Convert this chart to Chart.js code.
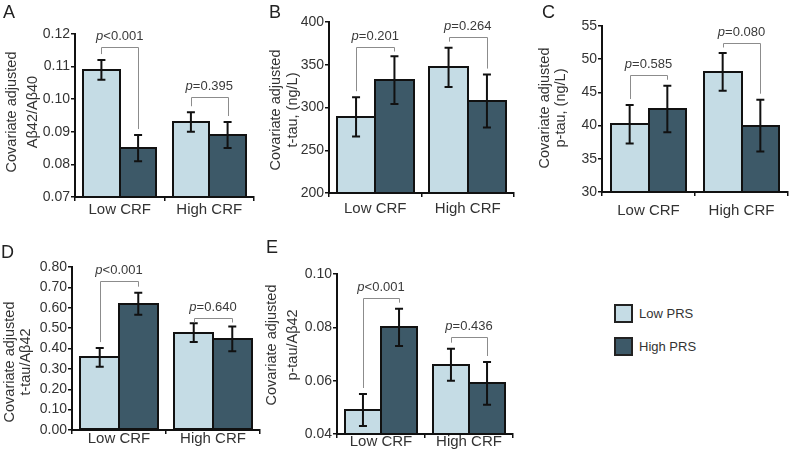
<!DOCTYPE html>
<html>
<head>
<meta charset="utf-8">
<script src="https://cdn.jsdelivr.net/npm/chart.js@4.4.1/dist/chart.umd.min.js"></script>
<style>
  html, body { margin: 0; padding: 0; background: #fff; }
  #figure { position: relative; width: 793px; height: 455px; overflow: hidden; font-family: 'Liberation Sans', Arial, sans-serif; }
  #figure canvas { position: absolute; }
  .legend { position: absolute; left: 614px; top: 304px; color: #333; font-size: 13px; }
  .legend-item { display: flex; align-items: center; height: 19px; margin-bottom: 14px; }
  .swatch { box-sizing: border-box; width: 19px; height: 19px; border: 2px solid #222; margin-right: 6px; }
</style>
</head>
<body>
<div id="figure">
  <canvas id="panelA"></canvas>
  <canvas id="panelB"></canvas>
  <canvas id="panelC"></canvas>
  <canvas id="panelD"></canvas>
  <canvas id="panelE"></canvas>
  <div class="legend">
    <div class="legend-item"><div class="swatch" style="background:#c5dce5"></div>Low PRS</div>
    <div class="legend-item"><div class="swatch" style="background:#3d5968"></div>High PRS</div>
  </div>
</div>
<script>
// Data
const categories = ['Low CRF', 'High CRF'];
const seriesNames = ['Low PRS', 'High PRS'];

// A: Aβ42/Aβ40
const abRatioLowPRS = [0.109, 0.093];
const abRatioLowPRSErr = [0.003, 0.003];
const abRatioHighPRS = [0.085, 0.089];
const abRatioHighPRSErr = [0.004, 0.004];
const abRatioP = ['<0.001', '=0.395'];
const abRatioTicks = [0.07, 0.08, 0.09, 0.10, 0.11, 0.12];

// B: t-tau
const tTauLowPRS = [289, 347];
const tTauLowPRSErr = [23, 23];
const tTauHighPRS = [332, 307.5];
const tTauHighPRSErr = [28, 31];
const tTauP = ['=0.201', '=0.264'];
const tTauTicks = [200, 250, 300, 350, 400];

// C: p-tau
const pTauLowPRS = [40.2, 48.1];
const pTauLowPRSErr = [2.9, 2.85];
const pTauHighPRS = [42.5, 40.0];
const pTauHighPRSErr = [3.5, 3.9];
const pTauP = ['=0.585', '=0.080'];
const pTauTicks = [30, 35, 40, 45, 50, 55];

// D: t-tau/Aβ42
const tTauAbLowPRS = [0.356, 0.478];
const tTauAbLowPRSErr = [0.046, 0.046];
const tTauAbHighPRS = [0.62, 0.447];
const tTauAbHighPRSErr = [0.054, 0.061];
const tTauAbP = ['<0.001', '=0.640'];
const tTauAbTicks = [0, 0.1, 0.2, 0.3, 0.4, 0.5, 0.6, 0.7, 0.8];

// E: p-tau/Aβ42
const pTauAbLowPRS = [0.049, 0.066];
const pTauAbLowPRSErr = [0.006, 0.006];
const pTauAbHighPRS = [0.080, 0.059];
const pTauAbHighPRSErr = [0.007, 0.008];
const pTauAbP = ['<0.001', '=0.436'];
const pTauAbTicks = [0.04, 0.06, 0.08, 0.10];

const FONT = "'Liberation Sans', Arial, sans-serif";
const LIGHT = '#c5dce5';
const DARK = '#3d5968';

// layout: box = canvas [left, top, width, height], area = plot [left, top, right, bottom], page coords
const panels = [
    { id: 'panelA', letter: 'A', letterPos: [3, 18], box: [0, 0, 262, 225], area: [75, 34, 254, 197],
      title: ['Covariate adjusted', 'Aβ42/Aβ40'], titleX: [12, 33], titleY: 112, xPad: 0,
      low: abRatioLowPRS, lowErr: abRatioLowPRSErr, high: abRatioHighPRS, highErr: abRatioHighPRSErr,
      p: abRatioP, ticks: abRatioTicks, decimals: 2, brackets: [0.116, 0.1007], cp: 0.82 },
    { id: 'panelB', letter: 'B', letterPos: [269, 18], box: [262, 0, 258, 225], area: [329, 22, 514, 193],
      title: ['Covariate adjusted', 't-tau, (ng/L)'], titleX: [276, 293], titleY: 110, xPad: 3,
      low: tTauLowPRS, lowErr: tTauLowPRSErr, high: tTauHighPRS, highErr: tTauHighPRSErr,
      p: tTauP, ticks: tTauTicks, decimals: 0, brackets: [371, 382], cp: 0.83 },
    { id: 'panelC', letter: 'C', letterPos: [542, 18], box: [520, 0, 273, 225], area: [602, 26, 788, 192],
      title: ['Covariate adjusted', 'p-tau, (ng/L)'], titleX: [545, 561], titleY: 108, xPad: 6,
      low: pTauLowPRS, lowErr: pTauLowPRSErr, high: pTauHighPRS, highErr: pTauHighPRSErr,
      p: pTauP, ticks: pTauTicks, decimals: 0, brackets: [47.6, 52.4], cp: 0.81 },
    { id: 'panelD', letter: 'D', letterPos: [1, 258], box: [0, 225, 262, 230], area: [72, 267, 260, 430],
      title: ['Covariate adjusted', 't-tau/Aβ42'], titleX: [10, 26], titleY: 362, xPad: -4,
      low: tTauAbLowPRS, lowErr: tTauAbLowPRSErr, high: tTauAbHighPRS, highErr: tTauAbHighPRSErr,
      p: tTauAbP, ticks: tTauAbTicks, decimals: 2, brackets: [0.731, 0.55], cp: 0.82 },
    { id: 'panelE', letter: 'E', letterPos: [266, 253], box: [262, 225, 258, 230], area: [337, 274, 513, 434],
      title: ['Covariate adjusted', 'p-tau/Aβ42'], titleX: [272, 293], titleY: 345, xPad: -5,
      low: pTauAbLowPRS, lowErr: pTauAbLowPRSErr, high: pTauAbHighPRS, highErr: pTauAbHighPRSErr,
      p: pTauAbP, ticks: pTauAbTicks, decimals: 2, brackets: [0.091, 0.0764], cp: 0.82 }
];

// Bar outlines, error bars, p-value brackets, panel letter and y title
const annotate = {
    id: 'annotate',
    afterDatasetsDraw(chart, args, opts) {
        const ctx = chart.ctx;
        const y = chart.scales.y;
        const p = opts.panel;
        const area = chart.chartArea;
        const errTop = [];

        ctx.save();
        ctx.strokeStyle = '#111';
        ctx.lineWidth = 2;

        // outline every bar from its element bounds so neighbours share one edge
        chart.data.datasets.forEach((ds, di) => {
            chart.getDatasetMeta(di).data.forEach((bar) => {
                const l = Math.round(bar.x - bar.width / 2);
                const r = Math.round(bar.x + bar.width / 2);
                const t = Math.round(bar.y);
                const b = Math.round(Math.min(bar.base, area.bottom));
                ctx.strokeRect(l, t, r - l, b - t);
            });
        });

        chart.data.datasets.forEach((ds, di) => {
            errTop[di] = [];
            chart.getDatasetMeta(di).data.forEach((bar, i) => {
                const top = y.getPixelForValue(ds.data[i] + ds.errors[i]);
                const bot = y.getPixelForValue(ds.data[i] - ds.errors[i]);
                errTop[di][i] = top;
                ctx.beginPath();
                ctx.moveTo(bar.x, top); ctx.lineTo(bar.x, bot);
                ctx.moveTo(bar.x - 4, top); ctx.lineTo(bar.x + 4, top);
                ctx.moveTo(bar.x - 4, bot); ctx.lineTo(bar.x + 4, bot);
                ctx.stroke();
            });
        });

        // brackets between the two bars of each group
        const m0 = chart.getDatasetMeta(0).data;
        const m1 = chart.getDatasetMeta(1).data;
        ctx.strokeStyle = '#8c8c8c';
        ctx.lineWidth = 1;
        ctx.fillStyle = '#3a3a3a';
        ctx.textBaseline = 'alphabetic';
        categories.forEach((c, i) => {
            const xL = m0[i].x, xR = m1[i].x;
            const yb = Math.round(y.getPixelForValue(p.brackets[i])) + 0.5;
            const endL = Math.max(yb + 4, errTop[0][i] - 6);
            const endR = Math.max(yb + 4, errTop[1][i] - 6);
            ctx.beginPath();
            ctx.moveTo(Math.round(xL) + 0.5, endL);
            ctx.lineTo(Math.round(xL) + 0.5, yb);
            ctx.lineTo(Math.round(xR) + 0.5, yb);
            ctx.lineTo(Math.round(xR) + 0.5, endR);
            ctx.stroke();

            ctx.font = 'italic 13px ' + FONT;
            const wp = ctx.measureText('p').width;
            ctx.font = '13px ' + FONT;
            const wr = ctx.measureText(p.p[i]).width;
            const x0 = (xL + xR) / 2 - (wp + wr) / 2;
            ctx.font = 'italic 13px ' + FONT;
            ctx.fillText('p', x0, yb - 8);
            ctx.font = '13px ' + FONT;
            ctx.fillText(p.p[i], x0 + wp, yb - 8);
        });
        ctx.restore();
    },
    afterDraw(chart, args, opts) {
        const ctx = chart.ctx;
        const p = opts.panel;
        const ox = p.box[0], oy = p.box[1];
        ctx.save();
        ctx.fillStyle = '#222';
        ctx.font = '18px ' + FONT;
        ctx.textAlign = 'left';
        ctx.textBaseline = 'alphabetic';
        ctx.fillText(p.letter, p.letterPos[0] - ox, p.letterPos[1] - oy);

        ctx.fillStyle = '#333';
        ctx.font = '14.5px ' + FONT;
        ctx.textAlign = 'center';
        ctx.textBaseline = 'middle';
        p.title.forEach((line, k) => {
            ctx.save();
            ctx.translate(p.titleX[k] - ox, p.titleY - oy);
            ctx.rotate(-Math.PI / 2);
            ctx.fillText(line, 0, 0);
            ctx.restore();
        });
        ctx.restore();
    }
};

function drawPanel(p) {
    const canvas = document.getElementById(p.id);
    const [left, top, w, h] = p.box;
    canvas.width = w;
    canvas.height = h;
    canvas.style.left = left + 'px';
    canvas.style.top = top + 'px';

    const [aL, aT, aR, aB] = p.area;

    new Chart(canvas.getContext('2d'), {
        type: 'bar',
        data: {
            labels: categories,
            datasets: [
                { label: seriesNames[0], data: p.low, errors: p.lowErr, backgroundColor: LIGHT },
                { label: seriesNames[1], data: p.high, errors: p.highErr, backgroundColor: DARK }
            ]
        },
        options: {
            responsive: false,
            animation: false,
            maintainAspectRatio: false,
            layout: { padding: { top: aT - top, right: left + w - aR, left: 0, bottom: 0 } },
            datasets: {
                bar: {
                    borderWidth: 0,
                    inflateAmount: 0.5,
                    barPercentage: 1.0,
                    categoryPercentage: p.cp
                }
            },
            plugins: {
                legend: { display: false },
                tooltip: { enabled: false },
                annotate: { panel: p }
            },
            scales: {
                x: {
                    afterFit: (s) => { s.height = top + h - aB; },
                    grid: { drawOnChartArea: false, tickLength: 4, color: '#111', lineWidth: 1.5, offset: true },
                    border: { color: '#111', width: 2 },
                    ticks: { color: '#333', padding: p.xPad, font: { family: FONT, size: 15 } }
                },
                y: {
                    min: p.ticks[0],
                    max: p.ticks[p.ticks.length - 1],
                    afterFit: (s) => { s.width = aL - left; },
                    afterBuildTicks: (s) => { s.ticks = p.ticks.map(v => ({ value: v })); },
                    grid: { drawOnChartArea: false, tickLength: 4, color: '#111', lineWidth: 1.5 },
                    border: { color: '#111', width: 2 },
                    ticks: {
                        color: '#333',
                        padding: 1,
                        font: { family: FONT, size: 14 },
                        callback: (v) => Number(v).toFixed(p.decimals)
                    }
                }
            }
        },
        plugins: [annotate]
    });
}

panels.forEach(drawPanel);
</script>
</body>
</html>
